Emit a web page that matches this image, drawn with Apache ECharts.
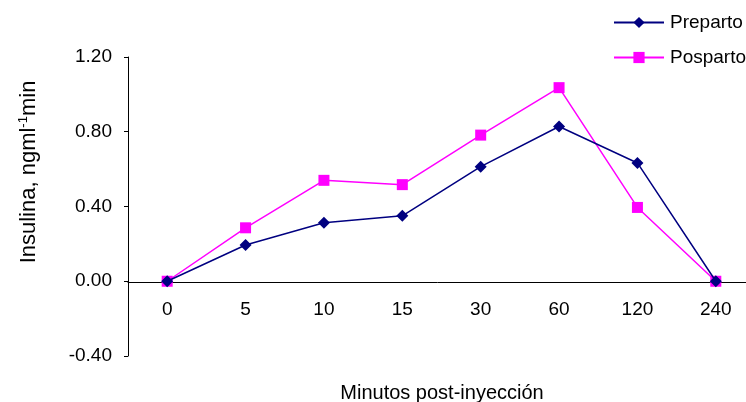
<!DOCTYPE html>
<html><head><meta charset="utf-8">
<script src="https://cdn.jsdelivr.net/npm/echarts@6/dist/echarts.min.js"></script>
<style>html,body{margin:0;padding:0;background:#fff}#c{width:746px;height:402px}</style>
</head><body><div id="c"></div>
<script>
const categories = ['0','5','10','15','30','60','120','240'];
const preparto = [0, 0.194, 0.313, 0.350, 0.613, 0.828, 0.633, 0];
const posparto = [0, 0.286, 0.540, 0.517, 0.782, 1.036, 0.395, 0];
const yTicks = { min: -0.4, max: 1.2, interval: 0.4 };

const FONT = '"Liberation Sans", Arial, sans-serif';
const FS = 19;
const chart = echarts.init(document.getElementById('c'), null, {renderer:'canvas'});
chart.setOption({
  animation: false,
  backgroundColor: '#fff',
  grid: { left: 128, right: -9, top: 57, bottom: 46, containLabel: false, outerBoundsMode: 'none' },
  legend: {
    orient: 'vertical', left: 613, top: 13, padding: 0, itemWidth: 50, itemHeight: 14, itemGap: 16,
    textStyle: { fontFamily: FONT, fontSize: FS, color: '#000', padding: [0,0,0,1] },
    data: ['Preparto', 'Posparto']
  },
  xAxis: {
    type: 'category', data: categories, boundaryGap: true, offset: -74,
    axisLine: { onZero: false, lineStyle: { color: '#000', width: 1 } },
    axisTick: { inside: true, length: 5, lineStyle: { color: '#000' } },
    axisLabel: { color: '#000', fontFamily: FONT, fontSize: FS, margin: 18 },
    splitLine: { show: false }
  },
  yAxis: {
    type: 'value', min: yTicks.min, max: yTicks.max, interval: yTicks.interval,
    axisLine: { show: true, lineStyle: { color: '#000', width: 1 } },
    axisTick: { show: true, length: 4, lineStyle: { color: '#000' } },
    axisLabel: { color: '#000', fontFamily: FONT, fontSize: FS, margin: 16,
      formatter: v => v.toFixed(2) },
    splitLine: { show: false }
  },
  graphic: [
    { type: 'text', x: 17, y: 172, rotation: Math.PI/2,
      style: { text: 'Insulina, ngml{sup|-1}min', fontFamily: FONT, fontSize: 22, fill: '#000',
        align: 'center', verticalAlign: 'top',
        rich: { sup: { fontSize: 13, verticalAlign: 'top', padding: [0,0,11,0], fontFamily: FONT } } } },
    { type: 'text', x: 442, y: 393,
      style: { text: 'Minutos post-inyección', fontFamily: FONT, fontSize: 20, fill: '#000',
        align: 'center', verticalAlign: 'middle' } }
  ],
  series: [
    { name: 'Preparto', type: 'line', data: preparto, symbol: 'diamond', symbolSize: 12,
      lineStyle: { color: '#000080', width: 1.5 }, itemStyle: { color: '#000080' }, z: 3 },
    { name: 'Posparto', type: 'line', data: posparto, symbol: 'rect', symbolSize: 11,
      lineStyle: { color: '#FF00FF', width: 1.5 }, itemStyle: { color: '#FF00FF' }, z: 2 }
  ]
});
</script></body></html>
